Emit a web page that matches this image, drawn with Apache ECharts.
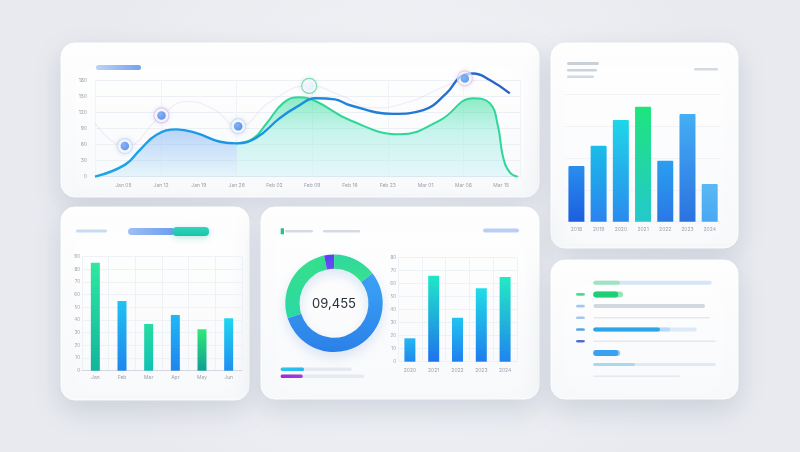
<!DOCTYPE html>
<html>
<head>
<meta charset="utf-8">
<script src="https://cdn.jsdelivr.net/npm/echarts@6/dist/echarts.min.js"></script>
<style>
  html, body { margin: 0; padding: 0; background: #eef0f4; }
  #chart { width: 800px; height: 452px; }
</style>
</head>
<body>
<div id="chart"></div>
<script>
// ---------- data ----------
// Trend card: two smooth series over 11 periods
const trendLabels = ['Jan 05', 'Jan 12', 'Jan 19', 'Jan 26', 'Feb 02', 'Feb 09', 'Feb 16', 'Feb 23', 'Mar 01', 'Mar 08', 'Mar 15'];
const trendTicks = [1, 2, 3, 4, 5, 6, 7, 8, 9, 10, 11];
const trendBlue = [[0.25, 0], [1.04, 22], [1.44, 50], [1.88, 78], [2.41, 88], [2.94, 81], [3.56, 65], [4.0, 62], [4.53, 73], [5.14, 109], [5.59, 130], [6.1, 146], [6.6, 144], [7.0, 133], [8.14, 117], [8.94, 124], [9.55, 155], [9.99, 189], [10.26, 192], [10.7, 180], [11.23, 155]];
const trendBlueArea = [[0.25, 0], [1.04, 22], [1.44, 50], [1.88, 78], [2.41, 88], [2.94, 81], [3.56, 65], [4.0, 62]];
const trendGreen = [[4.0, 62], [4.45, 72], [4.79, 99], [5.23, 137], [5.65, 148], [6.11, 140], [7.0, 105], [8.32, 79], [9.38, 105], [10.26, 146], [10.7, 137], [10.92, 93], [11.05, 37], [11.23, 8], [11.44, 0]];
const trendGuide = [[0.25, 100], [1.04, 57], [2.01, 114], [2.7, 140], [3.4, 125], [4.04, 94], [4.9, 140], [5.92, 169], [6.8, 150], [7.6, 128], [8.6, 140], [9.4, 165], [10.04, 183]];
const markerX = [1.04, 2.01, 4.04, 5.92, 10.04];
const markerY = [57, 114, 94, 169, 183];

// Yearly bars
const yearLabels = ['2018', '2019', '2020', '2021', '2022', '2023', '2024'];
const yearValues = [43.6, 59.5, 79.6, 90.1, 47.8, 84.3, 29.5];

// Monthly bars
const monthLabels = ['Jan', 'Feb', 'Mar', 'Apr', 'May', 'Jun'];
const monthValues = [85.3, 55, 36.9, 44, 32.7, 41.4];

// Share donut
const shareNames = ['Direct', 'Search', 'Social', 'Referral'];
const shareValues = [55.6, 26.7, 3.3, 14.4];
const totalLabel = '09,455';

// Quarterly bars
const quarterLabels = ['2020', '2021', '2022', '2023', '2024'];
const quarterValues = [18, 66.2, 33.8, 56.5, 65.2];

// Progress rows under the donut
const progressNames = ['Active', 'Pending'];
const progressValues = [28, 26.4];
const progressTargets = [85.2, 100];

// Ranked list rows
const rowNames = ['R1', 'R2', 'R3', 'R4', 'R5', 'R6', 'R7', 'R8', 'R9'];
const rowTrack = [96.7, null, 91.3, 95.3, 84.5, 100, null, 100, 70.8];
const rowExtra = [null, 24.3, null, null, 62.7, null, 22, null, null];
const rowValue = [21.8, 20.4, null, null, 54.5, null, 20.4, 34, null];
const rowKeyed = [false, true, true, true, true, true, false, false, false];

// ---------- styles ----------
const vgrad = (a, b) => new echarts.graphic.LinearGradient(0, 0, 0, 1, [{ offset: 0, color: a }, { offset: 1, color: b }]);
const hgrad = (a, b) => new echarts.graphic.LinearGradient(0, 0, 1, 0, [{ offset: 0, color: a }, { offset: 1, color: b }]);

const yearColors = [
  ['#2a8eed', '#1c5ee0'], ['#1bbde8', '#2b82ef'], ['#1fd6e8', '#2a8aef'], ['#1ee57c', '#25c8cc'],
  ['#2a9ff0', '#2a78e6'], ['#45aef5', '#2b72e0'], ['#5ab8f5', '#48a8f2']
];
const monthColors = [
  ['#2ee8a0', '#13b49c'], ['#1fc2f2', '#1f86ee'], ['#25dca0', '#13c0b4'],
  ['#20b8f5', '#2184ef'], ['#30e878', '#0f9f92'], ['#1ed6f2', '#1f8ff0']
];
const quarterColors = [
  ['#26b6f0', '#1f88ee'], ['#1ee8c8', '#1f72ee'], ['#22c4f0', '#1f80ee'], ['#1fdde8', '#1f7cee'], ['#22eac4', '#1f84ee']
];
const shareColors = [
  vgrad('#3ba4f6', '#2b80e8'), vgrad('#36e08a', '#2cd8a4'), vgrad('#5a3ef0', '#6a4cf6'), vgrad('#2fd6a0', '#38e28a')
];
const markerRing = ['#c6dcf2', '#e0bfe8', '#c2ddf2', '#62d892', '#f0c0d6'];
const markerCore = ['#3b78ea', '#3b74e8', '#2f6fe6', '#dfeaf8', '#3f86ee'];

const rowThickness = [4, 6, 4, 1.5, 4, 1.5, 6, 3, 1.5];
const rowTrackColor = ['#d6e6f8', null, '#d3d7df', '#e3e7ee', '#dde9f7', '#e4e8ef', null, '#e1e9f3', '#e4e8ef'];
const rowExtraColor = [null, '#93e8bb', null, null, '#b6dbf7', null, '#8cc8f5', null, null];
const rowValueColor = ['#9ee4c0', '#1fcf78', null, null, '#2aa5ea', null, '#3aa0ef', '#a9d6f1', null];
const rowKeyColor = [null, '#22cf78', '#8fb8ec', '#8fb8ec', '#2a8de0', '#2448c8', null, null, null];

const labelGray = '#9ba1aa';
const tiny = (size, extra) => Object.assign({ fontSize: size, color: labelGray, fontFamily: 'Inter, sans-serif' }, extra || {});

// ---------- cards & decorations ----------
const cards = [[61, 43, 478, 154], [551, 43, 187, 205], [61, 207, 188, 193], [261, 207, 278, 192], [551, 260, 187, 139]];
const graphics = cards.map(c => ({
  type: 'rect', z: -10,
  shape: { x: c[0], y: c[1], width: c[2], height: c[3], r: 14 },
  style: {
    fill: new echarts.graphic.LinearGradient(0, 0, 0, 1, [{ offset: 0, color: '#ffffff' }, { offset: 1, color: '#f8f9fb' }]),
    stroke: 'rgba(255,255,255,0.9)', lineWidth: 1,
    shadowBlur: 28, shadowOffsetY: 10, shadowColor: 'rgba(90,105,140,0.20)'
  }
}));
const bar = (x, y, w, h, fill, r, extra) => ({
  type: 'rect', z: 5, shape: { x, y, width: w, height: h, r: r == null ? h / 2 : r },
  style: Object.assign({ fill }, extra || {})
});
graphics.push(
  bar(96, 65, 45, 5, hgrad('#bdd3f6', '#74a1ee')),
  bar(567, 62, 32, 3, '#c9d0da'), bar(567, 69, 30, 2.5, '#ccd3dd'), bar(567, 75.5, 27, 2.5, '#d3d9e2'), bar(694, 68, 24, 2.5, '#d5dae2'),
  bar(76, 229.5, 31, 3, '#c5dcf2'),
  bar(128, 228, 47, 7, hgrad('#9dbff4', '#6b9def'), 3.5),
  bar(172.7, 227, 36.3, 9, vgrad('#2fd6bd', '#1cc2a8'), 4, { shadowBlur: 6, shadowOffsetY: 2, shadowColor: 'rgba(40,180,160,0.3)' }),
  bar(280.7, 228.3, 3.3, 6, '#1fc48a', 0.5), bar(285, 230, 28, 2.5, '#d5dae2'), bar(323, 230, 37, 2.5, '#d5dae2'),
  bar(483, 228.5, 36, 4, '#bccdf5'),
  {
    type: 'text', z: 20, x: 334, y: 304,
    style: { text: totalLabel, fill: '#2b2f36', fontSize: 13, fontFamily: 'Inter, sans-serif', align: 'center', verticalAlign: 'middle' }
  }
);

// ---------- ranked list: one hidden category axis per bar thickness ----------
const thicknesses = [...new Set(rowThickness)];
const listAxes = thicknesses.map(() => ({
  type: 'category', gridIndex: 5, data: rowNames, inverse: true, show: false
}));
const listSeries = [];
thicknesses.forEach((t, ai) => {
  const pick = (vals, colors) => vals.map((v, i) =>
    (rowThickness[i] === t && v != null && colors[i]) ? { value: v, itemStyle: { color: colors[i] } } : null);
  [[rowTrack, rowTrackColor], [rowExtra, rowExtraColor], [rowValue, rowValueColor]].forEach(([vals, colors]) => {
    listSeries.push({
      type: 'bar', xAxisIndex: 5, yAxisIndex: 5 + ai, barWidth: t, barGap: '-100%',
      itemStyle: { borderRadius: t / 2 }, silent: true,
      data: pick(vals, colors)
    });
  });
});
listSeries.push({
  type: 'scatter', xAxisIndex: 5, yAxisIndex: 5 + thicknesses.indexOf(4), symbol: 'roundRect', symbolSize: [8.7, 2.6],
  silent: true,
  data: rowNames.map((n, i) => rowKeyed[i] ? { value: [-10.5, i], itemStyle: { color: rowKeyColor[i] } } : null).filter(Boolean)
});

// ---------- chart ----------
const splitFaint = { show: true, lineStyle: { color: '#eef1f5', width: 1 } };
const option = {
  animation: false,
  backgroundColor: new echarts.graphic.RadialGradient(0.5, 0.45, 0.75, [{ offset: 0, color: '#f5f6f9' }, { offset: 1, color: '#e8eaef' }]),
  textStyle: { fontFamily: 'Inter, sans-serif' },
  graphic: graphics,
  grid: [
    { left: 95, top: 80, width: 425, height: 96.7 },
    { left: 565.3, top: 94, width: 155.5, height: 127.7 },
    { left: 82, top: 256.7, width: 160, height: 114 },
    { left: 398, top: 257.7, width: 119, height: 104 },
    { left: 280.7, top: 365.8, width: 83.3, height: 14 },
    { left: 568.8, top: 276.85, width: 146.9, height: 105.3 }
  ],
  xAxis: [
    {
      type: 'value', gridIndex: 0, min: 0.25, max: 11.5,
      axisLine: { show: true, lineStyle: { color: '#dfe3ea' } }, axisTick: { show: false },
      axisLabel: Object.assign(tiny(5, { margin: 6 }), { customValues: trendTicks, formatter: v => trendLabels[Math.round(v) - 1] || '' }),
      splitLine: { show: true, lineStyle: { color: '#f1f3f6' } }
    },
    {
      type: 'category', gridIndex: 1, data: yearLabels,
      axisLine: { show: false }, axisTick: { show: false }, axisLabel: tiny(5, { margin: 5 })
    },
    {
      type: 'category', gridIndex: 2, data: monthLabels,
      axisLine: { show: true, lineStyle: { color: '#d3d8e0' } }, axisTick: { show: false },
      axisLabel: tiny(5, { margin: 4 }), splitLine: splitFaint
    },
    {
      type: 'category', gridIndex: 3, data: quarterLabels,
      axisLine: { show: false }, axisTick: { show: false },
      axisLabel: tiny(5, { margin: 6 }), splitLine: splitFaint
    },
    { type: 'value', gridIndex: 4, min: 0, max: 100, show: false },
    { type: 'value', gridIndex: 5, min: -20, max: 100, show: false }
  ],
  yAxis: [
    {
      type: 'value', gridIndex: 0, min: 0, max: 180, interval: 30,
      axisLine: { show: false }, axisTick: { show: false },
      axisLabel: tiny(5, { margin: 8 }), splitLine: { show: true, lineStyle: { color: '#eceff3' } }
    },
    {
      type: 'value', gridIndex: 1, min: 0, max: 100, interval: 25,
      axisLabel: { show: false }, axisLine: { show: false }, axisTick: { show: false },
      splitLine: { show: true, lineStyle: { color: '#f0f2f5' } }
    },
    {
      type: 'value', gridIndex: 2, min: 0, max: 90, interval: 10,
      axisLine: { show: false }, axisTick: { show: false },
      axisLabel: tiny(4.5, { margin: 2 }), splitLine: splitFaint
    },
    {
      type: 'value', gridIndex: 3, min: 0, max: 80, interval: 10,
      axisLine: { show: false }, axisTick: { show: false },
      axisLabel: tiny(4.5, { margin: 2 }), splitLine: splitFaint
    },
    { type: 'category', gridIndex: 4, data: progressNames, inverse: true, show: false }
  ].concat(listAxes),
  series: [
    // trend card
    {
      type: 'line', xAxisIndex: 0, yAxisIndex: 0, data: trendGuide, smooth: 0.5, showSymbol: false, silent: true, clip: false,
      lineStyle: { color: 'rgba(216,210,228,0.38)', width: 1.1 }, z: 1
    },
    {
      type: 'line', xAxisIndex: 0, yAxisIndex: 0, data: trendBlueArea, smooth: 0.45, showSymbol: false, silent: true,
      lineStyle: { width: 0 },
      areaStyle: { color: vgrad('rgba(96,156,240,0.6)', 'rgba(200,236,250,0.55)') }, z: 2
    },
    {
      type: 'line', xAxisIndex: 0, yAxisIndex: 0, data: trendGreen, smooth: 0.45, showSymbol: false, silent: true,
      lineStyle: { color: '#2fd698', width: 2 },
      areaStyle: {
        color: new echarts.graphic.LinearGradient(0, 0, 0, 1, [
          { offset: 0, color: 'rgba(52,222,150,0.82)' },
          { offset: 0.45, color: 'rgba(128,232,214,0.58)' },
          { offset: 1, color: 'rgba(204,242,252,0.6)' }
        ])
      }, z: 3
    },
    {
      type: 'line', xAxisIndex: 0, yAxisIndex: 0, data: trendBlue, smooth: 0.45, showSymbol: false, silent: true, clip: false,
      lineStyle: {
        width: 2.4,
        color: new echarts.graphic.LinearGradient(0, 0, 1, 0, [
          { offset: 0, color: '#1aa6ea' }, { offset: 0.5, color: '#1c8ee0' }, { offset: 1, color: '#2a5fc6' }
        ])
      }, z: 4
    },
    {
      type: 'scatter', xAxisIndex: 0, yAxisIndex: 0, symbolSize: 15, clip: false, silent: true, z: 5,
      data: markerX.map((x, i) => ({
        value: [x, markerY[i]],
        itemStyle: { color: 'rgba(255,255,255,0.8)', borderColor: markerRing[i], borderWidth: 1.2, shadowBlur: 5, shadowColor: 'rgba(110,150,220,0.25)' }
      }))
    },
    {
      type: 'scatter', xAxisIndex: 0, yAxisIndex: 0, symbolSize: 8.5, clip: false, silent: true, z: 6,
      data: markerX.map((x, i) => ({
        value: [x, markerY[i]],
        itemStyle: {
          color: new echarts.graphic.RadialGradient(0.35, 0.35, 0.8, [
            { offset: 0, color: i === 3 ? '#f4f8fd' : '#6aa2f6' }, { offset: 1, color: markerCore[i] }
          ])
        }
      }))
    },
    // yearly bars
    {
      type: 'bar', xAxisIndex: 1, yAxisIndex: 1, barWidth: 16, silent: true,
      data: yearValues.map((v, i) => ({ value: v, itemStyle: { color: vgrad(yearColors[i][0], yearColors[i][1]), borderRadius: [1, 1, 0, 0] } }))
    },
    // monthly bars
    {
      type: 'bar', xAxisIndex: 2, yAxisIndex: 2, barWidth: 9, silent: true,
      data: monthValues.map((v, i) => ({ value: v, itemStyle: { color: vgrad(monthColors[i][0], monthColors[i][1]) } }))
    },
    // quarterly bars
    {
      type: 'bar', xAxisIndex: 3, yAxisIndex: 3, barWidth: 11, silent: true,
      data: quarterValues.map((v, i) => ({ value: v, itemStyle: { color: vgrad(quarterColors[i][0], quarterColors[i][1]) } }))
    },
    // donut
    {
      type: 'pie', center: [334, 303.3], radius: [34.5, 48.7], startAngle: 38, clockwise: true, silent: true,
      label: { show: false }, labelLine: { show: false },
      itemStyle: { shadowBlur: 12, shadowOffsetY: 5, shadowColor: 'rgba(60,120,200,0.18)' },
      data: shareNames.map((n, i) => ({ name: n, value: shareValues[i], itemStyle: { color: shareColors[i] } }))
    },
    // progress rows
    {
      type: 'bar', xAxisIndex: 4, yAxisIndex: 4, barWidth: 3.5, barGap: '-100%', silent: true,
      itemStyle: { color: '#e6eaf0', borderRadius: 1.5 }, data: progressTargets
    },
    {
      type: 'bar', xAxisIndex: 4, yAxisIndex: 4, barWidth: 3.5, barGap: '-100%', silent: true,
      itemStyle: { borderRadius: 1.5 },
      data: progressValues.map((v, i) => ({ value: v, itemStyle: { color: i === 0 ? hgrad('#25c8f0', '#2bb6ee') : hgrad('#9b2cd6', '#a33ae0') } }))
    }
  ].concat(listSeries)
};

const chart = echarts.init(document.getElementById('chart'), null, { renderer: 'canvas' });
chart.setOption(option);
</script>
</body>
</html>
